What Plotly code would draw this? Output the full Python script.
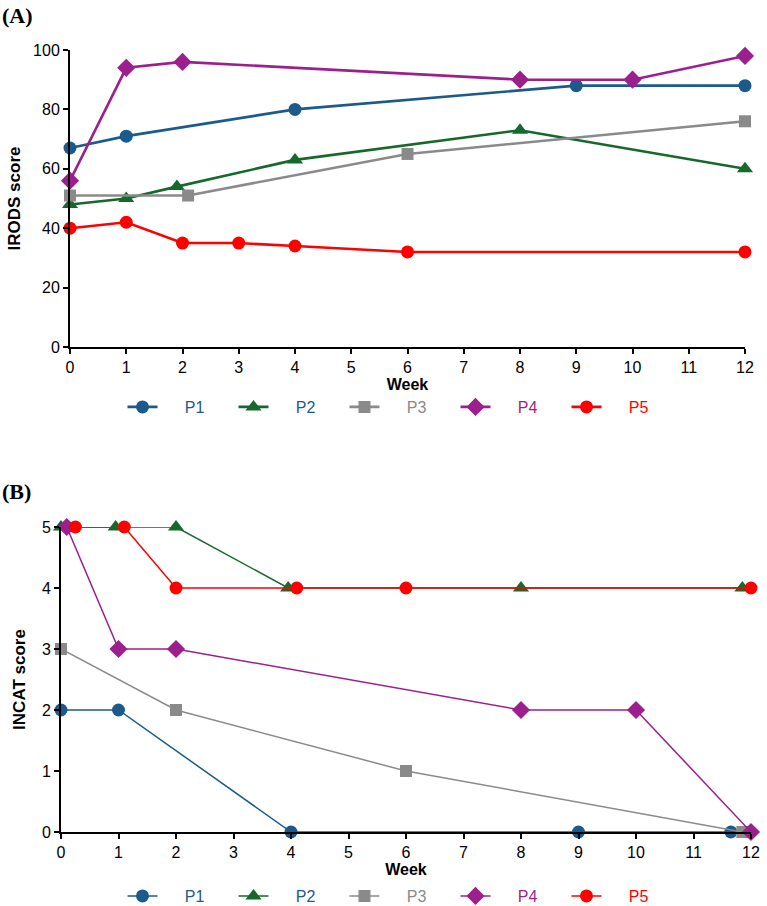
import plotly.graph_objects as go

# ---------- Data ----------
names = ["P1", "P2", "P3", "P4", "P5"]
colors = ["#1b5a8c", "#16682b", "#8a8a8a", "#9c1f8e", "#ff0000"]
label_colors = ["#1b5a8c", "#1b5a8c", "#8a8a8a", "#9c1f8e", "#ff0000"]
symbols = ["circle", "triangle-up", "square", "diamond", "circle"]

# Panel A: IRODS score
a_p1_x = [0, 1, 4, 9, 12];            a_p1_y = [67, 71, 80, 88, 88]
a_p2_x = [0, 1, 1.9, 4, 8, 12];       a_p2_y = [48, 50, 54, 63, 73, 60]
a_p3_x = [0, 2.1, 6, 12];             a_p3_y = [51, 51, 65, 76]
a_p4_x = [0, 1, 2, 8, 10, 12];        a_p4_y = [56, 94, 96, 90, 90, 98]
a_p5_x = [0, 1, 2, 3, 4, 6, 12];      a_p5_y = [40, 42, 35, 35, 34, 32, 32]

# Panel B: INCAT score
b_p1_x = [0, 1, 4, 9, 11.65];         b_p1_y = [2, 2, 0, 0, 0]
b_p2_x = [0, 0.95, 2, 3.95, 8, 11.85]; b_p2_y = [5, 5, 5, 4, 4, 4]
b_p3_x = [0, 2, 6, 11.85];            b_p3_y = [3, 2, 1, 0]
b_p4_x = [0.1, 1, 2, 8, 10, 12];      b_p4_y = [5, 3, 3, 2, 2, 0]
b_p5_x = [0.25, 1.1, 2, 4.1, 6, 12];  b_p5_y = [5, 5, 4, 4, 4, 4]

x_ticks = list(range(0, 13))
a_y_ticks = [0, 20, 40, 60, 80, 100]
b_y_ticks = [0, 1, 2, 3, 4, 5]

A = [(a_p1_x, a_p1_y), (a_p2_x, a_p2_y), (a_p3_x, a_p3_y), (a_p4_x, a_p4_y), (a_p5_x, a_p5_y)]
B = [(b_p1_x, b_p1_y), (b_p2_x, b_p2_y), (b_p3_x, b_p3_y), (b_p4_x, b_p4_y), (b_p5_x, b_p5_y)]

W, H = 767, 906
FONT = "Liberation Sans, Arial, sans-serif"

fig = go.Figure()
msize = [13, 14, 12, 14, 13]
PAD = "&nbsp;" * 5
for i, (x, y) in enumerate(A):
    fig.add_trace(go.Scatter(
        x=x, y=y, mode="lines+markers", xaxis="x", yaxis="y",
        name=f"{PAD}<span style='color:{label_colors[i]}'>{names[i]}</span>",
        line=dict(color=colors[i], width=2.6),
        marker=dict(symbol=symbols[i], size=msize[i], color=colors[i]),
        cliponaxis=False, legend="legend"))
for i, (x, y) in enumerate(B):
    fig.add_trace(go.Scatter(
        x=x, y=y, mode="lines+markers", xaxis="x2", yaxis="y2",
        name=f"{PAD}<span style='color:{label_colors[i]}'>{names[i]}</span>",
        line=dict(color=colors[i], width=1.5),
        marker=dict(symbol=symbols[i], size=msize[i], color=colors[i]),
        cliponaxis=False, legend="legend2"))

def px_x(p): return p / W
def px_y(p): return 1 - p / H

axis_common = dict(showgrid=False, zeroline=False, showline=True, linecolor="black",
                   linewidth=2, ticks="outside", ticklen=5, tickwidth=2, tickcolor="black",
                   automargin=False,
                   tickfont=dict(family=FONT, size=16, color="black"))

legend_common = dict(orientation="h", x=px_x(400), xanchor="center", yanchor="middle",
                     entrywidth=66, font=dict(family=FONT, size=16),
                     bgcolor="rgba(0,0,0,0)", itemsizing="trace")

fig.update_layout(
    width=W, height=H, margin=dict(l=0, r=0, t=0, b=0, autoexpand=False),
    plot_bgcolor="white", paper_bgcolor="white",
    font=dict(family=FONT, color="black"),
    xaxis=dict(domain=[px_x(70), px_x(745)], range=[0, 12], tickvals=x_ticks,
               anchor="y", title=dict(text="<b>Week</b>", font=dict(size=16), standoff=2),
               **axis_common),
    yaxis=dict(domain=[px_y(347), px_y(50)], range=[0, 100], tickvals=a_y_ticks,
               anchor="x", title=dict(text="<b>IRODS score</b>", font=dict(size=17), standoff=8),
               **axis_common),
    xaxis2=dict(domain=[px_x(61), px_x(751)], range=[0, 12], tickvals=x_ticks,
                anchor="y2", title=dict(text="<b>Week</b>", font=dict(size=16), standoff=4),
                **axis_common),
    yaxis2=dict(domain=[px_y(832), px_y(527)], range=[0, 5], tickvals=b_y_ticks,
                anchor="x2", title=dict(text="<b>INCAT score</b>", font=dict(size=17), standoff=12),
                **axis_common),
    legend=dict(y=px_y(407), **legend_common),
    legend2=dict(y=px_y(896), **legend_common),
    showlegend=True,
    annotations=[
        dict(text="<b>(A)</b>", x=0, y=1, xref="paper", yref="paper", xanchor="left",
             yanchor="top", showarrow=False, yshift=-1,
             font=dict(family="Liberation Serif, Times New Roman, serif", size=22, color="black")),
        dict(text="<b>(B)</b>", x=0, y=px_y(477), xref="paper", yref="paper", xanchor="left",
             yanchor="top", showarrow=False,
             font=dict(family="Liberation Serif, Times New Roman, serif", size=22, color="black")),
    ],
)

fig.write_html("out.html")
